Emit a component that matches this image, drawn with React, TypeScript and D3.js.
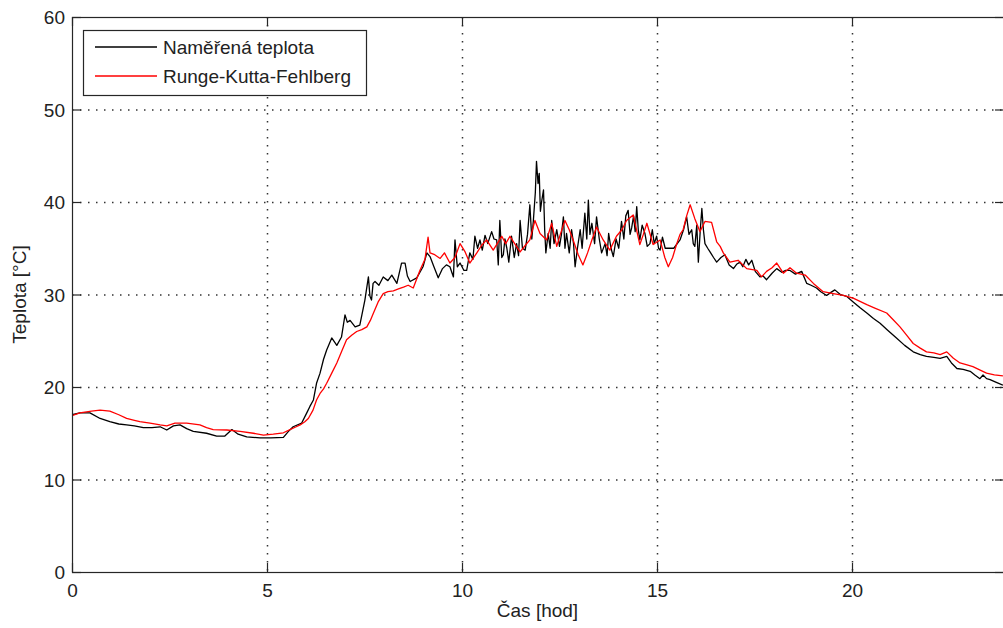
import React from "react";
import * as d3 from "d3";

const measuredTime = [0.00,0.20,0.46,0.72,0.97,1.20,1.40,1.60,1.83,2.05,2.26,2.43,2.60,2.77,2.94,3.11,3.45,3.71,3.92,4.10,4.26,4.48,4.82,5.10,5.42,5.55,5.67,5.89,6.02,6.10,6.19,6.27,6.36,6.45,6.53,6.66,6.79,6.91,7.00,7.06,7.13,7.26,7.38,7.51,7.60,7.64,7.68,7.72,7.77,7.87,7.98,8.10,8.20,8.33,8.45,8.54,8.60,8.67,8.84,9.00,9.10,9.18,9.28,9.39,9.50,9.60,9.69,9.78,9.82,9.88,9.95,10.05,10.12,10.20,10.28,10.33,10.40,10.46,10.52,10.59,10.66,10.76,10.82,10.89,10.93,10.97,11.02,11.06,11.10,11.15,11.20,11.27,11.34,11.40,11.45,11.49,11.55,11.62,11.68,11.74,11.79,11.83,11.88,11.91,11.95,11.98,12.01,12.04,12.09,12.12,12.15,12.21,12.26,12.30,12.36,12.43,12.50,12.55,12.60,12.64,12.68,12.75,12.81,12.86,12.90,12.96,13.03,13.08,13.15,13.20,13.24,13.28,13.33,13.40,13.45,13.52,13.58,13.67,13.72,13.76,13.82,13.88,13.95,14.02,14.09,14.15,14.20,14.26,14.31,14.35,14.40,14.44,14.48,14.52,14.56,14.62,14.69,14.75,14.82,14.88,14.93,14.99,15.04,15.08,15.14,15.21,15.30,15.43,15.59,15.68,15.76,15.82,15.89,15.93,15.97,16.02,16.06,16.11,16.15,16.19,16.23,16.30,16.36,16.45,16.53,16.64,16.74,16.85,16.96,17.05,17.13,17.20,17.28,17.35,17.43,17.52,17.64,17.72,17.81,17.95,18.07,18.20,18.30,18.41,18.55,18.71,18.84,18.95,19.09,19.20,19.35,19.45,19.56,19.70,19.86,20.03,20.20,20.38,20.55,20.72,20.90,21.14,21.35,21.57,21.75,21.91,22.10,22.26,22.43,22.55,22.69,22.85,23.03,23.15,23.28,23.36,23.45,23.54,23.70,23.87];
const measuredTemp = [17.0,17.2,17.2,16.6,16.25,16.0,15.9,15.8,15.6,15.6,15.7,15.35,15.8,15.9,15.5,15.2,15.0,14.7,14.7,15.4,14.9,14.6,14.5,14.5,14.55,15.2,15.7,16.1,17.2,17.9,18.6,20.4,21.5,23.0,24.0,25.3,24.5,25.4,27.8,27.0,27.2,26.5,26.7,29.4,31.9,29.8,29.4,31.2,31.4,31.0,31.9,31.5,32.1,31.2,33.4,33.4,32.0,31.4,31.8,33.0,34.5,34.1,33.0,31.8,32.8,33.2,33.0,31.9,35.9,33.0,33.4,32.6,32.6,34.5,33.8,36.3,35.0,35.9,34.8,36.4,35.5,36.8,36.0,35.9,33.2,38.0,34.0,34.3,36.0,35.0,33.5,36.3,34.0,35.5,34.2,38.0,35.0,34.8,36.5,39.7,36.0,38.0,41.0,44.4,42.0,43.1,39.0,40.0,41.3,37.0,34.5,36.6,35.0,38.0,35.5,37.0,35.2,36.5,38.4,35.0,36.6,34.5,37.0,35.5,33.0,35.0,37.0,35.0,38.8,36.0,40.2,36.5,37.7,35.5,38.4,36.0,34.5,35.5,34.2,36.6,35.0,34.1,36.0,35.0,37.9,36.0,38.5,39.1,36.5,37.2,38.5,36.8,39.5,37.0,35.9,37.5,36.6,35.2,35.5,37.0,35.5,36.3,35.0,34.8,36.2,35.0,35.0,35.0,35.9,37.0,38.4,36.5,37.0,35.5,35.2,37.5,33.5,37.0,39.3,37.0,35.5,35.0,34.6,34.0,33.5,34.0,34.3,33.2,32.8,33.3,33.5,33.0,33.8,33.2,33.7,32.5,31.9,32.0,31.6,32.3,32.8,32.4,32.6,32.6,32.2,32.5,31.2,31.0,30.7,30.3,29.9,30.2,30.5,30.0,29.8,29.2,28.6,28.0,27.4,26.9,26.2,25.3,24.5,23.8,23.5,23.3,23.2,23.1,23.3,22.6,22.0,21.9,21.7,21.3,20.9,21.3,20.9,20.8,20.5,20.2];

const rkfTime = [0.00,0.20,0.50,0.72,0.97,1.20,1.40,1.60,1.74,2.00,2.26,2.43,2.64,2.94,3.28,3.45,3.62,3.97,4.31,4.65,4.91,5.16,5.42,5.59,5.75,5.85,5.97,6.06,6.18,6.27,6.36,6.45,6.53,6.66,6.79,6.91,7.04,7.17,7.30,7.43,7.56,7.65,7.73,7.85,7.98,8.10,8.24,8.37,8.50,8.62,8.75,8.85,8.92,9.05,9.13,9.18,9.30,9.44,9.55,9.69,9.82,9.95,10.08,10.20,10.38,10.50,10.63,10.80,10.92,11.02,11.12,11.23,11.35,11.49,11.62,11.74,11.87,12.00,12.17,12.30,12.43,12.52,12.64,12.75,12.85,12.98,13.10,13.22,13.33,13.45,13.62,13.79,13.96,14.10,14.22,14.39,14.56,14.65,14.74,14.90,15.08,15.20,15.29,15.40,15.50,15.59,15.67,15.76,15.85,15.97,16.10,16.23,16.40,16.53,16.62,16.70,16.87,17.08,17.30,17.56,17.68,17.81,17.95,18.07,18.24,18.41,18.58,18.80,19.01,19.26,19.52,19.78,20.03,20.38,20.60,20.89,21.05,21.23,21.40,21.57,21.75,21.91,22.10,22.26,22.43,22.60,22.77,22.95,23.10,23.30,23.45,23.65,23.87];
const rkfTemp = [16.9,17.2,17.4,17.5,17.4,17.0,16.6,16.4,16.25,16.1,15.9,15.8,16.1,16.1,15.9,15.6,15.4,15.35,15.2,15.0,14.8,14.9,15.05,15.4,15.7,15.9,16.25,16.6,17.5,18.6,19.3,19.8,20.4,21.5,22.6,23.8,25.1,25.6,26.0,26.2,26.5,27.2,28.0,29.2,30.1,30.3,30.4,30.6,30.8,31.0,30.7,31.8,32.6,33.8,36.2,34.5,34.3,33.9,34.5,33.4,34.0,35.5,34.6,33.4,34.5,35.3,35.9,34.8,35.6,36.3,35.5,36.3,35.5,34.6,35.3,35.9,38.0,36.6,35.9,37.7,35.2,36.5,38.0,37.0,35.9,34.3,33.2,34.5,35.9,37.3,35.9,34.8,36.3,37.0,38.0,38.6,35.4,36.5,37.7,35.4,35.9,34.0,33.0,34.0,35.4,36.5,37.0,38.5,39.7,38.2,36.8,37.9,37.8,35.7,35.2,34.5,33.5,33.7,32.8,32.6,31.9,32.5,32.9,33.4,32.3,32.9,32.3,32.1,31.2,30.3,30.1,29.9,29.6,28.9,28.5,28.0,27.3,26.5,25.6,24.7,24.2,23.8,23.7,23.5,23.8,23.1,22.6,22.4,22.2,21.8,21.5,21.3,21.2];

const xTicks = [0, 5, 10, 15, 20];
const yTicks = [0, 10, 20, 30, 40, 50, 60];
const legendLabels = ["Naměřená teplota", "Runge-Kutta-Fehlberg"];
const seriesColors = ["#000000", "#ff0000"];

const W = 1003, H = 628;
const left = 72, right = 1004, top = 17, bottom = 572;
const FONT = "'Liberation Sans', Arial, Helvetica, sans-serif";

export default function App() {
  const x = d3.scaleLinear().domain([0, (right - left) / 39]).range([left, right]);
  const y = d3.scaleLinear().domain([0, 60]).range([bottom, top]);
  const line = d3.line<[number, number]>().x(d => x(d[0])).y(d => y(d[1]));
  const measured = measuredTime.map((t, i) => [t, measuredTemp[i]] as [number, number]);
  const rkf = rkfTime.map((t, i) => [t, rkfTemp[i]] as [number, number]);
  const tick = 9;
  const axisColor = "#262626";
  return (
    <svg width={W} height={H} style={{ position: "absolute", left: 0, top: 0, display: "block", background: "#fff" }} fontFamily={FONT}>
      <defs>
        <clipPath id="plotclip">
          <rect x={left} y={top} width={right - left} height={bottom - top} />
        </clipPath>
      </defs>
      <rect x={0} y={0} width={W} height={H} fill="#fff" />
      {/* grid */}
      {xTicks.filter(t => t > 0).map(t => (
        <line key={"gx" + t} x1={x(t) + 0.5} x2={x(t) + 0.5} y1={top} y2={bottom} stroke="#333" strokeWidth={1.5} strokeDasharray="1.5 6.5" />
      ))}
      {yTicks.filter(t => t > 0 && t < 60).map(t => (
        <line key={"gy" + t} x1={left} x2={right} y1={y(t) + 0.5} y2={y(t) + 0.5} stroke="#333" strokeWidth={1.5} strokeDasharray="1.5 6.5" />
      ))}
      {/* series */}
      <g clipPath="url(#plotclip)" fill="none">
        <path d={line(measured) || ""} stroke={seriesColors[0]} strokeWidth={1.3} strokeLinejoin="round" />
        <path d={line(rkf) || ""} stroke={seriesColors[1]} strokeWidth={1.3} strokeLinejoin="round" />
      </g>
      {/* axes box */}
      <rect x={left + 0.5} y={top + 0.5} width={right - left} height={bottom - top} fill="none" stroke={axisColor} strokeWidth={1.2} />
      {xTicks.map(t => (
        <g key={"xt" + t}>
          <line x1={x(t) + 0.5} x2={x(t) + 0.5} y1={bottom} y2={bottom - tick} stroke={axisColor} strokeWidth={1.2} />
          <line x1={x(t) + 0.5} x2={x(t) + 0.5} y1={top} y2={top + tick} stroke={axisColor} strokeWidth={1.2} />
          <text x={x(t) + 0.5} y={597} textAnchor="middle" fontSize={19} fill="#222">{t}</text>
        </g>
      ))}
      {yTicks.map(t => (
        <g key={"yt" + t}>
          <line x1={left} x2={left + tick} y1={y(t) + 0.5} y2={y(t) + 0.5} stroke={axisColor} strokeWidth={1.2} />
          <line x1={right - tick} x2={right} y1={y(t) + 0.5} y2={y(t) + 0.5} stroke={axisColor} strokeWidth={1.2} />
          <text x={65} y={y(t) + 7} textAnchor="end" fontSize={19} fill="#222">{t}</text>
        </g>
      ))}
      {/* axis labels */}
      <text x={(left + 1003) / 2} y={617} textAnchor="middle" fontSize={19} fill="#222">Čas [hod]</text>
      <text transform={`translate(26, ${(top + bottom) / 2}) rotate(-90)`} textAnchor="middle" fontSize={19} fill="#222">Teplota [°C]</text>
      {/* legend */}
      <g>
        <rect x={83.5} y={30.5} width={283} height={65} fill="#fff" stroke={axisColor} strokeWidth={1.2} />
        {legendLabels.map((lab, i) => (
          <g key={lab}>
            <line x1={95} x2={157} y1={47 + i * 29} y2={47 + i * 29} stroke={seriesColors[i]} strokeWidth={1.3} />
            <text x={163} y={54 + i * 29} fontSize={19} fill="#222">{lab}</text>
          </g>
        ))}
      </g>
    </svg>
  );
}
